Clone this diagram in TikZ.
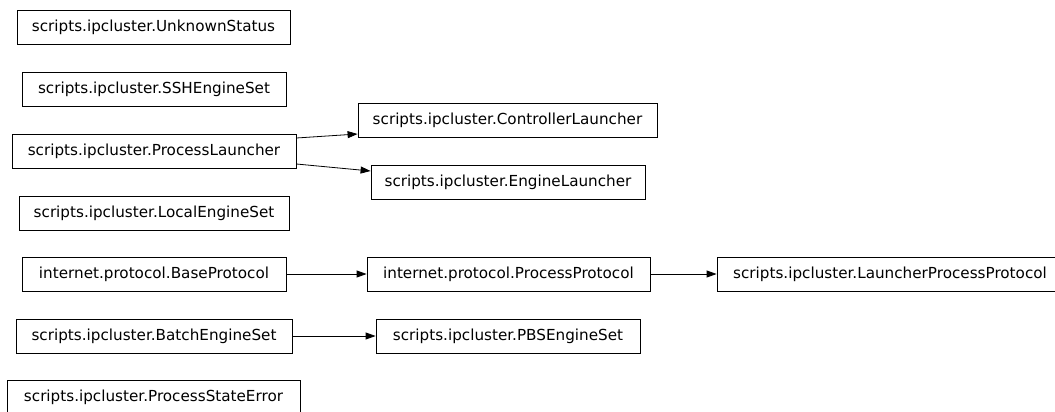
\documentclass[tikz,border=0pt]{standalone}
\usepackage{fontspec}
\setmainfont{DejaVu Sans}
\usetikzlibrary{arrows.meta}

\begin{document}
\begin{tikzpicture}[
  x=1pt, y=-1pt,
  box/.style={draw, line width=0.8pt, minimum height=34pt, inner sep=0pt,
              font=\fontsize{15.2}{18}\selectfont},
  arr/.style={-{Triangle[length=10pt,width=7pt]}, line width=0.8pt},
]
\useasboundingbox (0,0) rectangle (1055,412);

\node[box, minimum width=273pt] (unknown)   at (153.5,27)  {scripts.ipcluster.UnknownStatus};
\node[box, minimum width=264pt] (sshset)    at (154,89.5)  {scripts.ipcluster.SSHEngineSet};
\node[box, minimum width=284pt] (launcher)  at (154,151)   {scripts.ipcluster.ProcessLauncher};
\node[box, minimum width=270pt] (localset)  at (154,213)   {scripts.ipcluster.LocalEngineSet};
\node[box, minimum width=264pt] (baseproto) at (154,274)   {internet.protocol.BaseProtocol};
\node[box, minimum width=276pt] (batchset)  at (154,336)   {scripts.ipcluster.BatchEngineSet};
\node[box, minimum width=293pt] (stateerr)  at (153.5,397) {scripts.ipcluster.ProcessStateError};

\node[box, minimum width=299pt] (ctrl)      at (507.5,120.5) {scripts.ipcluster.ControllerLauncher};
\node[box, minimum width=274pt] (engine)    at (508,182)   {scripts.ipcluster.EngineLauncher};
\node[box, minimum width=283pt] (procproto) at (508.5,274) {internet.protocol.ProcessProtocol};
\node[box, minimum width=264pt] (pbsset)    at (508,336)   {scripts.ipcluster.PBSEngineSet};
\node[box, minimum width=346pt] (lpproto)   at (890,274)   {scripts.ipcluster.LauncherProcessProtocol};

\draw[arr] ([yshift=13pt]launcher.east) -- ([yshift=-13.5pt]ctrl.west);
\draw[arr] ([yshift=-13pt]launcher.east) -- ([yshift=11pt]engine.west);
\draw[arr] (baseproto) -- (procproto);
\draw[arr] (procproto) -- (lpproto);
\draw[arr] (batchset) -- (pbsset);

\end{tikzpicture}
\end{document}
